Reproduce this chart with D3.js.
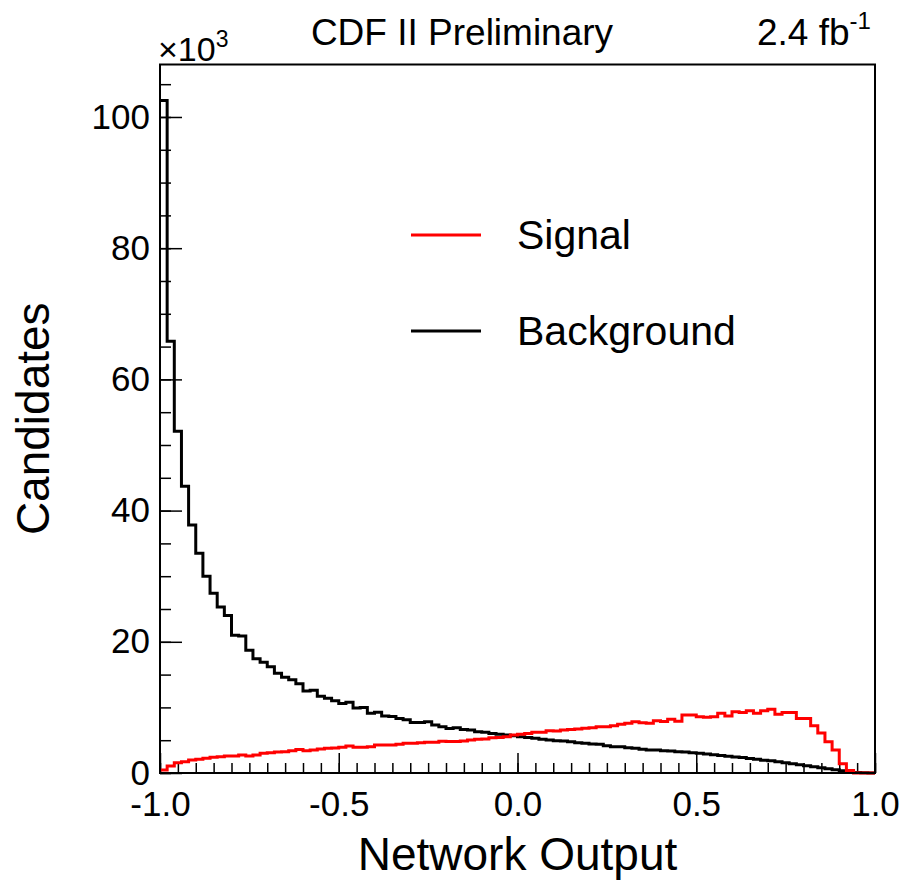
<!DOCTYPE html>
<html>
<head>
<meta charset="utf-8">
<script src="https://cdn.jsdelivr.net/npm/d3@7"></script>
<style>
body{margin:0;background:#fff;}
text{font-family:"Liberation Sans",Arial,Helvetica,sans-serif;}
</style>
</head>
<body>
<div class="plot"></div>
<script>
// histogram: 100 bins over the network output, values in 10^3 candidates
var xMin = -1.0;
var xMax = 1.0;
var nBins = 100;
var background = [
    102.5, 65.8, 52.1, 43.7, 37.8, 33.5, 30.0, 27.4, 25.3, 24.0, 21.0, 20.9,
    18.7, 17.4, 16.9, 16.2, 15.2, 14.6, 14.2, 13.6, 12.5, 12.6, 11.7, 11.4, 11.0, 10.6,
    10.8, 9.9, 10.0, 9.1, 9.25, 8.7, 8.6, 8.3, 8.1, 7.7, 7.7, 7.8, 7.3, 7.05, 6.8, 6.9,
    6.65, 6.55, 6.30, 6.20, 6.04, 5.89, 5.79, 5.69, 5.54, 5.43, 5.28, 5.13, 5.03, 4.93,
    4.88, 4.77, 4.62, 4.52, 4.42, 4.37, 4.16, 4.01, 4.01, 3.86, 3.76, 3.61, 3.50, 3.50,
    3.4, 3.35, 3.25, 3.2, 3.1, 3.0, 2.9, 2.8, 2.65, 2.55, 2.45, 2.35, 2.2, 2.1, 1.95,
    1.85, 1.7, 1.55, 1.4, 1.25, 1.1, 0.95, 0.8, 0.65, 0.5, 0.35, 0.2, 0.08, 0.02, 0
];
var signal = [
    0.46, 1.07, 1.57, 1.73, 1.98, 2.08, 2.23, 2.39, 2.49, 2.59,
    2.59, 2.74, 2.59, 2.74, 3.0, 3.1, 3.2, 3.25, 3.4, 3.6, 3.4, 3.5, 3.66, 3.76, 3.81,
    3.91, 4.11, 3.91, 3.91, 4.01, 4.27, 4.27, 4.27, 4.37, 4.52, 4.52, 4.62, 4.67, 4.7,
    4.85, 4.8, 4.8,
    4.88, 5.03, 5.13, 5.18, 5.38, 5.43, 5.54, 5.79, 5.89, 6.04, 6.20, 6.20, 6.45, 6.40,
    6.55, 6.65, 6.70, 6.81, 6.91, 7.06, 7.06, 7.21, 7.42, 7.57, 7.82, 7.67, 7.57, 7.97,
    7.85, 8.18, 7.9, 8.84, 8.84, 8.58, 8.48, 8.58, 9.09, 8.69, 9.35, 9.24, 9.50, 9.09,
    9.50, 9.70, 8.94, 9.24, 9.24, 8.3, 8.3, 7.2, 6.1, 4.77, 3.5, 1.4, 0.4, 0, 0, 0
];
var xMajor = [-1.0, -0.5, 0.0, 0.5, 1.0];
var yMajor = [0, 20, 40, 60, 80, 100];
var legendNames = ["Signal", "Background"];
var legendColors = ["#ff0000", "#000000"];

var W = 901, H = 881;
var padL = 160, padR = 875, padT = 64.5, padB = 773;

var svg = d3.select("div.plot")
    .append("svg")
    .attr("width", W)
    .attr("height", H);

var x = d3.scaleLinear().domain([xMin, xMax]).range([padL, padR]);
var y = d3.scaleLinear().domain([0, 108]).range([padB, padT]);

var binW = (xMax - xMin) / nBins;
function steps(vals){
    var pts = vals.map(function(v, i){ return [xMin + i*binW, v]; });
    pts.push([xMax, vals[vals.length-1]]);
    return pts;
}
var line = d3.line()
    .x(function(d){ return x(d[0]); })
    .y(function(d){ return y(d[1]); })
    .curve(d3.curveStepAfter);

// minor ticks
var xMinor = d3.range(-20, 21).map(function(i){ return i*0.05; });
var yMinor = d3.range(0, 22).map(function(i){ return i*5; });

var xMinorAxis = svg.append("g")
    .attr("transform", "translate(0," + padB + ")")
    .call(d3.axisBottom(x).tickValues(xMinor).tickSize(-10).tickFormat(""));
var xAxis = svg.append("g")
    .attr("transform", "translate(0," + padB + ")")
    .call(d3.axisBottom(x).tickValues(xMajor).tickSize(-20).tickPadding(24)
        .tickFormat(function(d){ return d.toFixed(1); }));
var yMinorAxis = svg.append("g")
    .attr("transform", "translate(" + padL + ",0)")
    .call(d3.axisLeft(y).tickValues(yMinor).tickSize(-11).tickFormat(""));
var yAxis = svg.append("g")
    .attr("transform", "translate(" + padL + ",0)")
    .call(d3.axisLeft(y).tickValues(yMajor).tickSize(-22).tickPadding(10)
        .tickFormat(function(d){ return String(d); }));

svg.selectAll(".domain").remove();
svg.selectAll(".tick line").attr("stroke", "#000").attr("stroke-width", 1.5);
xAxis.selectAll("text")
    .attr("font-size", "35px")
    .attr("fill", "#000")
    .attr("dy", "0.71em")
    .attr("y", 18);
yAxis.selectAll("text")
    .attr("font-size", "35px")
    .attr("fill", "#000");

svg.append("path")
    .attr("d", line(steps(background)))
    .attr("fill", "none")
    .attr("stroke", "#000")
    .attr("stroke-width", 3);
svg.append("path")
    .attr("d", line(steps(signal)))
    .attr("fill", "none")
    .attr("stroke", "#ff0000")
    .attr("stroke-width", 3);

svg.append("rect")
    .attr("x", padL)
    .attr("y", padT)
    .attr("width", padR - padL)
    .attr("height", padB - padT)
    .attr("fill", "none")
    .attr("stroke", "#000")
    .attr("stroke-width", 2);

// exponent
var expo = svg.append("text")
    .attr("x", 158)
    .attr("y", 61)
    .attr("font-size", "34px");
expo.append("tspan").text("\u00d710");
expo.append("tspan").text("3").attr("font-size", "23px").attr("dy", -14);

// titles
svg.append("text")
    .text("CDF II Preliminary")
    .attr("x", 462)
    .attr("y", 45)
    .attr("text-anchor", "middle")
    .attr("font-size", "37px");
var lumi = svg.append("text")
    .attr("x", 757)
    .attr("y", 45)
    .attr("font-size", "37px");
lumi.append("tspan").text("2.4 fb");
lumi.append("tspan").text("-1").attr("font-size", "24px").attr("dy", -16);

svg.append("text")
    .text("Network Output")
    .attr("x", (padL + padR)/2)
    .attr("y", 870)
    .attr("text-anchor", "middle")
    .attr("font-size", "46px");
svg.append("text")
    .text("Candidates")
    .attr("transform", "translate(49," + (padT + padB)/2 + ") rotate(-90)")
    .attr("text-anchor", "middle")
    .attr("font-size", "46px");

// legend
var legY = [235, 331];
legendNames.forEach(function(name, i){
    svg.append("line")
        .attr("x1", 411).attr("x2", 481)
        .attr("y1", legY[i]).attr("y2", legY[i])
        .attr("stroke", legendColors[i])
        .attr("stroke-width", 3);
    svg.append("text")
        .text(name)
        .attr("x", 517)
        .attr("y", legY[i])
        .attr("dy", "0.35em")
        .attr("font-size", "41px");
});
</script>
</body>
</html>
